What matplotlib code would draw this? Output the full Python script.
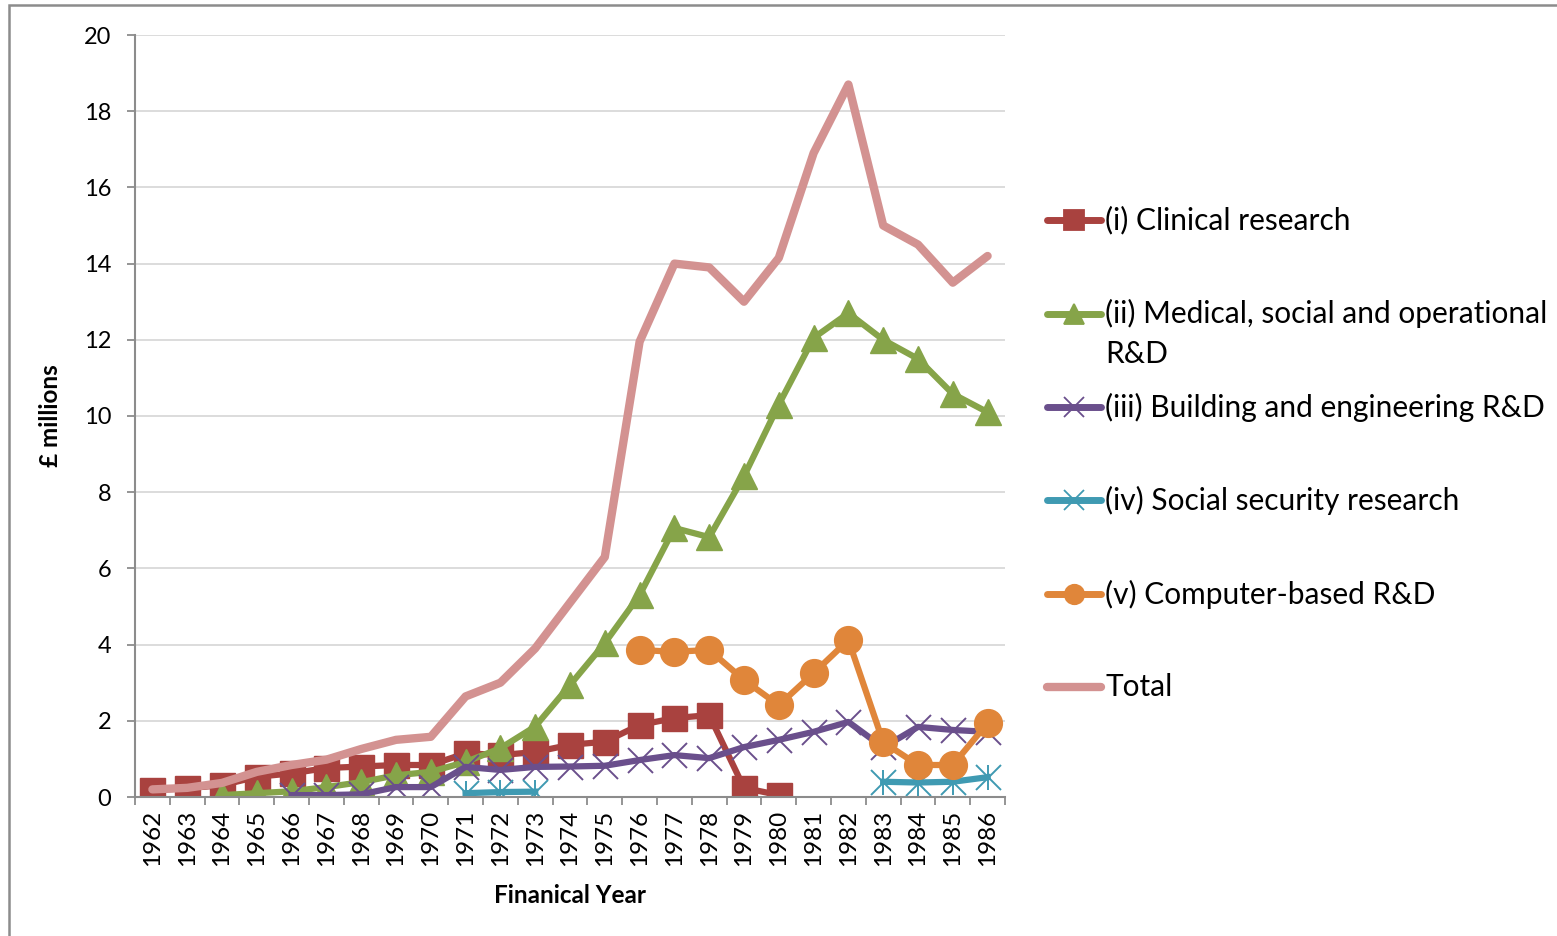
import matplotlib.pyplot as plt
import numpy as np
from matplotlib.lines import Line2D
from matplotlib.patches import Rectangle

plt.rcParams["font.family"] = ["Lato", "DejaVu Sans"]

# ── Data (£ millions, by financial year) ─────────────────────────────────────
nan = np.nan
years = [str(y) for y in range(1962, 1987)]

clinical = [0.18, 0.23, 0.31, 0.53, 0.62, 0.76, 0.8, 0.84, 0.84, 1.15, 1.1, 1.18,
            1.37, 1.45, 1.89, 2.07, 2.15, 0.24, 0.05, nan, nan, nan, nan, nan, nan]
medical = [nan, nan, 0.05, 0.1, 0.15, 0.26, 0.39, 0.57, 0.66, 0.92, 1.28, 1.85,
           2.94, 4.04, 5.3, 7.06, 6.82, 8.42, 10.3, 12.05, 12.7, 12.0, 11.5, 10.58, 10.1]
building = [nan, nan, nan, nan, 0.05, 0.05, 0.07, 0.26, 0.26, 0.79, 0.71, 0.79,
            0.8, 0.82, 0.97, 1.1, 1.02, 1.31, 1.5, 1.71, 1.97, 1.3, 1.84, 1.76, 1.71]
social = [nan, nan, nan, nan, nan, nan, nan, nan, nan, 0.1, 0.13, 0.14,
          nan, nan, nan, nan, nan, nan, nan, nan, nan, 0.4, 0.38, 0.4, 0.52]
computer = [nan] * 14 + [3.86, 3.81, 3.86, 3.07, 2.41, 3.25, 4.12, 1.44, 0.84, 0.84, 1.94]
total = [0.2, 0.24, 0.37, 0.66, 0.84, 0.98, 1.26, 1.5, 1.58, 2.64, 3.0, 3.9,
         5.1, 6.3, 11.95, 14.0, 13.9, 13.0, 14.15, 16.9, 18.7, 15.0, 14.5, 13.5, 14.2]

labels = ["(i) Clinical research",
          "(ii) Medical, social and operational\nR&D",
          "(iii) Building and engineering R&D",
          "(iv) Social security research",
          "(v) Computer-based R&D",
          "Total"]
colors = ["#A9423F", "#86A449", "#6A4F8C", "#3F9AB2", "#E0863A", "#D39291"]

# ── Figure ───────────────────────────────────────────────────────────────────
W, H = 1557, 936
fig = plt.figure(figsize=(W / 100, H / 100), dpi=100)
ax = fig.add_axes([135 / W, 1 - 797 / H, 870 / W, 762 / H])

x = np.arange(len(years))
ax.plot(x, clinical, color=colors[0], lw=4.5, marker="s", ms=18, solid_joinstyle="round")
ax.plot(x, medical, color=colors[1], lw=4.5, marker="^", ms=19, solid_joinstyle="round")
ax.plot(x, building, color=colors[2], lw=4.5, marker="x", ms=18, mew=1.4,
        solid_joinstyle="round")
ax.plot(x, social, color=colors[3], lw=4.5, marker="x", ms=18, mew=1.4,
        solid_joinstyle="round")
ax.plot(x, social, color=colors[3], lw=0, marker="|", ms=18, mew=1.4)
ax.plot(x, computer, color=colors[4], lw=4.5, marker="o", ms=20, solid_joinstyle="round")
ax.plot(x, total, color=colors[5], lw=6, solid_capstyle="round", solid_joinstyle="round")

ax.set_xlim(-0.5, len(years) - 0.5)
ax.set_ylim(0, 20)
ax.set_yticks(range(0, 21, 2))
ax.yaxis.grid(True, color="#d9d9d9", lw=1.3)
ax.set_axisbelow(True)
for s in ["top", "right"]:
    ax.spines[s].set_visible(False)
for s in ["left", "bottom"]:
    ax.spines[s].set_color("#8c8c8c")
    ax.spines[s].set_linewidth(1.5)

ax.set_xticks(x)
ax.set_xticklabels(years, rotation=90, fontsize=17.5)
ax.set_xticks(np.arange(-0.5, len(years)), minor=True)
ax.tick_params(axis="x", which="major", length=0, pad=9)
ax.tick_params(axis="x", which="minor", length=6, width=1.3, color="#8c8c8c")
ax.tick_params(axis="y", length=6, width=1.3, color="#8c8c8c", labelsize=17, pad=11)

ax.set_xlabel("Finanical Year", fontsize=17.5, fontweight="bold", labelpad=13)
ax.set_ylabel("£ millions", fontsize=17.5, fontweight="bold", labelpad=16)

# ── Legend (drawn by hand to keep Excel-style spacing) ───────────────────────
markers = ["s", "^", "x", "x", "o", None]
legend_y = [220, 314, 407, 500, 594, 687]
for lab, col, mk, ly in zip(labels, colors, markers, legend_y):
    yf = 1 - ly / H
    fig.add_artist(Line2D([1047 / W, 1101 / W], [yf, yf], transform=fig.transFigure,
                          color=col, lw=6 if mk is None else 5, solid_capstyle="round"))
    if mk is not None:
        fig.add_artist(Line2D([1074 / W], [yf], transform=fig.transFigure, color=col,
                              marker=mk, ms=14, mew=1.3, lw=0))
    if "\n" in lab:
        fig.text(1105 / W, yf + 15 / H, lab, fontsize=21.5, va="top", ha="left",
                 linespacing=1.5)
    else:
        fig.text(1105 / W, yf, lab, fontsize=21.5, va="center", ha="left")

# chart area border
fig.add_artist(Rectangle((9 / W, -0.1), 1.2, 1.1 - 5 / H, transform=fig.transFigure,
                         fill=False, edgecolor="#8c8c8c", lw=1.8))

fig.savefig("out.png", dpi=100)
